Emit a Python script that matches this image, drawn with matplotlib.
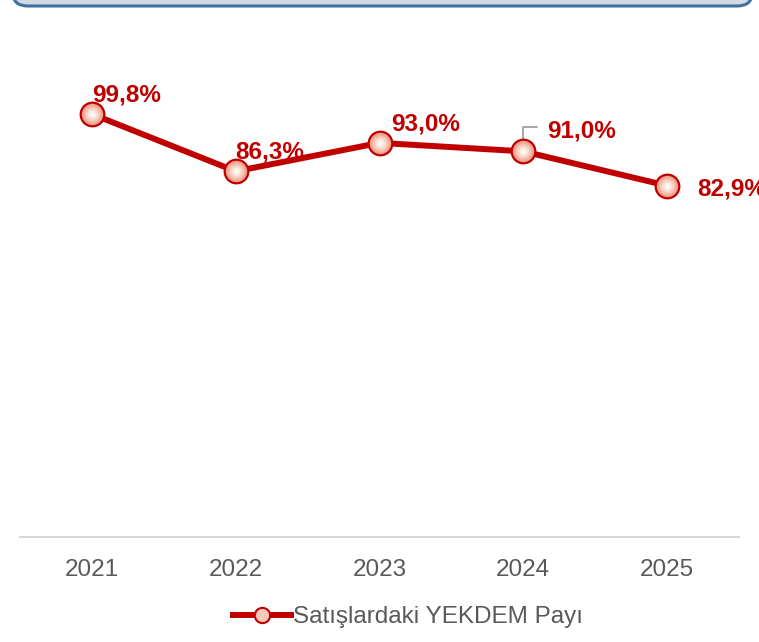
import matplotlib.pyplot as plt
from matplotlib.patches import FancyBboxPatch
from matplotlib.lines import Line2D

plt.rcParams['font.family'] = ['Liberation Sans', 'DejaVu Sans']

years = ['2021', '2022', '2023', '2024', '2025']
share = [99.8, 86.3, 93.0, 91.0, 82.9]
labels = ['99,8%', '86,3%', '93,0%', '91,0%', '82,9%']
series_name = 'Satışlardaki YEKDEM Payı'

red = '#C00000'
grey = '#595959'

fig = plt.figure(figsize=(7.59, 6.42), dpi=100)

# header box, mostly cut off above the chart
fig.patches.append(FancyBboxPatch((13 / 759, 1 - 6 / 642), 739 / 759, 0.2,
                                  boxstyle='round,pad=0,rounding_size=0.02',
                                  transform=fig.transFigure, facecolor='#D3DAE3',
                                  edgecolor='#41709F', linewidth=2.2, zorder=0))

ax = fig.add_axes([20 / 759, 105 / 642, 719 / 759, 506 / 642])
x = range(len(years))
ax.plot(x, share, color=red, lw=4.3, solid_capstyle='round', zorder=2)

# marker with a soft radial shading
ax.plot(x, share, 'o', ms=17, mfc='#F0A08C', mec=red, mew=1.6, zorder=3)
shades = ['#F4B4A2', '#F8C8B8', '#FBDACE', '#FDEAE2', '#FFF7F3']
for i, c in enumerate(shades):
    ax.plot(x, share, 'o', ms=13 - 2.4 * i, mfc=c, mec='none', zorder=4 + i)

offsets = [(0, 19), (0, 19), (12, 19), (24, 20), (30, -3)]
has_leader = [False, False, False, True, False]
for i, (v, lab) in enumerate(zip(share, labels)):
    dx, dy = offsets[i]
    ax.annotate(lab, (i, v), xytext=(dx, dy), textcoords='offset pixels',
                ha='left', va='center',
                fontsize=17.5, fontweight='bold', color=red, zorder=10,
                annotation_clip=False)
    if has_leader[i]:
        ax.annotate('', (i, v), xytext=(14, 24), textcoords='offset pixels',
                    arrowprops=dict(arrowstyle='-', color='#A6A6A6', lw=1.4,
                                    connectionstyle='angle,angleA=0,angleB=90,rad=0',
                                    shrinkA=0, shrinkB=0), zorder=2.5)

ax.set_xlim(-0.5, len(years) - 0.5)
ax.set_ylim(0, 119.4)
ax.set_xticks(list(x))
ax.set_xticklabels(years)
ax.set_yticks([])
ax.tick_params(axis='x', length=0, pad=15.5, labelsize=17.5, labelcolor=grey)
for s in ['top', 'left', 'right']:
    ax.spines[s].set_visible(False)
ax.spines['bottom'].set_color('#D9D9D9')
ax.spines['bottom'].set_linewidth(1.5)
ax.patch.set_alpha(0)

handle = Line2D([], [], color=red, lw=4.3, marker='o', ms=11,
                mfc='#F8C8B8', mec=red, mew=1.5)
fig.legend([handle], [series_name], loc='center', bbox_to_anchor=(408 / 759, 25 / 642),
           frameon=False, fontsize=17.5, labelcolor=grey, handlelength=2.4,
           handletextpad=0.1)

fig.savefig('out.png', dpi=100)
